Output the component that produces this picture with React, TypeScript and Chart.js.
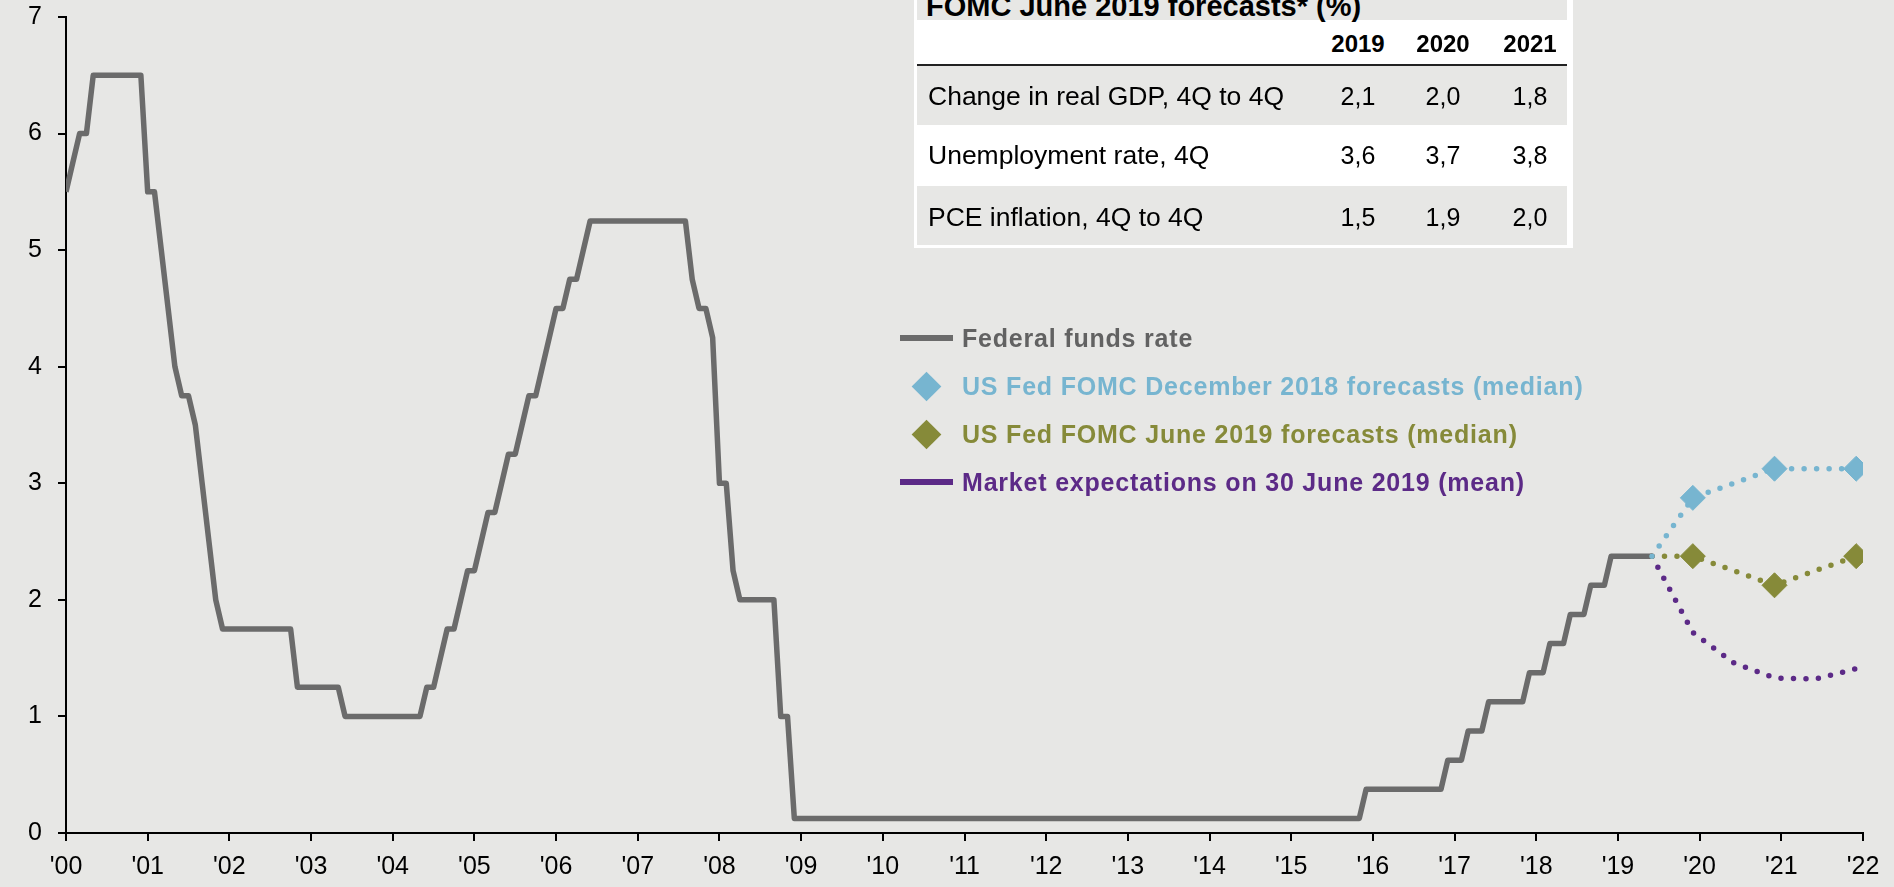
import React, { useEffect, useRef } from 'react';
import { Chart, registerables } from 'chart.js';

Chart.register(...registerables);

// ---------- data ----------
const FFR_START_YEAR = 2000;
// Federal funds rate (target / midpoint of target range), end of month, Jan 2000 .. Jun 2019
const ffrRates: number[] = [
  // 2000
  5.5, 5.75, 6.0, 6.0, 6.5, 6.5, 6.5, 6.5, 6.5, 6.5, 6.5, 6.5,
  // 2001
  5.5, 5.5, 5.0, 4.5, 4.0, 3.75, 3.75, 3.5, 3.0, 2.5, 2.0, 1.75,
  // 2002
  1.75, 1.75, 1.75, 1.75, 1.75, 1.75, 1.75, 1.75, 1.75, 1.75, 1.25, 1.25,
  // 2003
  1.25, 1.25, 1.25, 1.25, 1.25, 1.0, 1.0, 1.0, 1.0, 1.0, 1.0, 1.0,
  // 2004
  1.0, 1.0, 1.0, 1.0, 1.0, 1.25, 1.25, 1.5, 1.75, 1.75, 2.0, 2.25,
  // 2005
  2.25, 2.5, 2.75, 2.75, 3.0, 3.25, 3.25, 3.5, 3.75, 3.75, 4.0, 4.25,
  // 2006
  4.5, 4.5, 4.75, 4.75, 5.0, 5.25, 5.25, 5.25, 5.25, 5.25, 5.25, 5.25,
  // 2007
  5.25, 5.25, 5.25, 5.25, 5.25, 5.25, 5.25, 5.25, 4.75, 4.5, 4.5, 4.25,
  // 2008
  3.0, 3.0, 2.25, 2.0, 2.0, 2.0, 2.0, 2.0, 2.0, 1.0, 1.0, 0.125,
  // 2009
  0.125, 0.125, 0.125, 0.125, 0.125, 0.125, 0.125, 0.125, 0.125, 0.125, 0.125, 0.125,
  // 2010
  0.125, 0.125, 0.125, 0.125, 0.125, 0.125, 0.125, 0.125, 0.125, 0.125, 0.125, 0.125,
  // 2011
  0.125, 0.125, 0.125, 0.125, 0.125, 0.125, 0.125, 0.125, 0.125, 0.125, 0.125, 0.125,
  // 2012
  0.125, 0.125, 0.125, 0.125, 0.125, 0.125, 0.125, 0.125, 0.125, 0.125, 0.125, 0.125,
  // 2013
  0.125, 0.125, 0.125, 0.125, 0.125, 0.125, 0.125, 0.125, 0.125, 0.125, 0.125, 0.125,
  // 2014
  0.125, 0.125, 0.125, 0.125, 0.125, 0.125, 0.125, 0.125, 0.125, 0.125, 0.125, 0.125,
  // 2015
  0.125, 0.125, 0.125, 0.125, 0.125, 0.125, 0.125, 0.125, 0.125, 0.125, 0.125, 0.375,
  // 2016
  0.375, 0.375, 0.375, 0.375, 0.375, 0.375, 0.375, 0.375, 0.375, 0.375, 0.375, 0.625,
  // 2017
  0.625, 0.625, 0.875, 0.875, 0.875, 1.125, 1.125, 1.125, 1.125, 1.125, 1.125, 1.375,
  // 2018
  1.375, 1.375, 1.625, 1.625, 1.625, 1.875, 1.875, 1.875, 2.125, 2.125, 2.125, 2.375,
  // 2019
  2.375, 2.375, 2.375, 2.375, 2.375, 2.375,
];

// FOMC forecasts (median), year-end
const forecastDates = ['2019-12', '2020-12', '2021-12'];
const dec2018Forecasts = [2.875, 3.125, 3.125];
const jun2019Forecasts = [2.375, 2.125, 2.375];

// Market expectations on 30 June 2019 (mean)
const marketDates = ['2019-12', '2020-06', '2020-12', '2021-06', '2021-12'];
const marketExpectations = [1.72, 1.46, 1.33, 1.32, 1.41];

// axis
const yTicks = [0, 1, 2, 3, 4, 5, 6, 7];
const xTickYears = [2000, 2001, 2002, 2003, 2004, 2005, 2006, 2007, 2008, 2009, 2010, 2011,
  2012, 2013, 2014, 2015, 2016, 2017, 2018, 2019, 2020, 2021, 2022];

// table
const tableTitle = 'FOMC June 2019 forecasts* (%)';
const tableYears = ['2019', '2020', '2021'];
const tableRowLabels = ['Change in real GDP, 4Q to 4Q', 'Unemployment rate, 4Q', 'PCE inflation, 4Q to 4Q'];
const gdpRow = ['2,1', '2,0', '1,8'];
const unemploymentRow = ['3,6', '3,7', '3,8'];
const pceRow = ['1,5', '1,9', '2,0'];

// legend
const legendLabels = [
  'Federal funds rate',
  'US Fed FOMC December 2018 forecasts (median)',
  'US Fed FOMC June 2019 forecasts (median)',
  'Market expectations on 30 June 2019 (mean)',
];

// ---------- style ----------
const BG = '#e7e7e5';
const FONT = '"Liberation Sans", Arial, Helvetica, sans-serif';
const C_FFR = '#6b6b6b';
const C_DEC = '#77b5d0';
const C_JUN = '#868a39';
const C_MKT = '#5c2a87';
const C_FFR_TEXT = '#626262';

const toYear = (d: string) => {
  const [y, m] = d.split('-').map(Number);
  return y + (m - 1) / 12;
};

export default function App() {
  const ref = useRef<HTMLCanvasElement>(null);

  useEffect(() => {
    document.body.style.margin = '0';
    document.body.style.background = BG;
    const ffrPoints = ffrRates.map((v, i) => ({ x: FFR_START_YEAR + i / 12, y: v }));
    const last = ffrPoints[ffrPoints.length - 1];
    const decPoints = [last, ...forecastDates.map((d, i) => ({ x: toYear(d), y: dec2018Forecasts[i] }))];
    const junPoints = [last, ...forecastDates.map((d, i) => ({ x: toYear(d), y: jun2019Forecasts[i] }))];
    const mktPoints = [last, ...marketDates.map((d, i) => ({ x: toYear(d), y: marketExpectations[i] }))];

    const dotted = {
      borderWidth: 5.5,
      borderDash: [0, 12.5],
      borderCapStyle: 'round' as const,
      borderJoinStyle: 'round' as const,
      tension: 0,
      fill: false,
    };

    const chart = new Chart(ref.current!, {
      type: 'line',
      data: {
        datasets: [
          {
            label: legendLabels[1], data: decPoints, borderColor: C_DEC, backgroundColor: C_DEC,
            pointStyle: 'rectRot', pointRadius: [0, 12.5, 12.5, 12.5], pointBorderWidth: 1,
            pointBorderColor: C_DEC, order: 1, ...dotted,
          },
          {
            label: legendLabels[2], data: junPoints, borderColor: C_JUN, backgroundColor: C_JUN,
            pointStyle: 'rectRot', pointRadius: [0, 12.5, 12.5, 12.5], pointBorderWidth: 1,
            pointBorderColor: C_JUN, order: 2, ...dotted,
          },
          {
            label: legendLabels[3], data: mktPoints, borderColor: C_MKT, backgroundColor: C_MKT,
            pointRadius: 0, order: 3, ...dotted,
          },
          {
            label: legendLabels[0], data: ffrPoints, borderColor: C_FFR, backgroundColor: C_FFR,
            borderWidth: 5.5, pointRadius: 0, tension: 0, borderJoinStyle: 'round', order: 4,
          },
        ],
      },
      options: {
        responsive: false,
        animation: false,
        events: [],
        layout: { padding: { top: 17, right: 31, left: 0, bottom: 0 } },
        plugins: { legend: { display: false }, tooltip: { enabled: false } },
        scales: {
          x: {
            type: 'linear',
            min: xTickYears[0],
            max: xTickYears[xTickYears.length - 1],
            afterBuildTicks: (s: any) => { s.ticks = xTickYears.map((v) => ({ value: v })); },
            afterFit: (s: any) => { s.height = 54; s.paddingLeft = 16; s.paddingRight = 16; },
            ticks: {
              autoSkip: false, maxRotation: 0, minRotation: 0, padding: 11,
              color: '#000', font: { family: FONT, size: 25 },
              callback: (v: any) => "'" + String(Math.round(Number(v)) % 100).padStart(2, '0'),
            },
            grid: { drawOnChartArea: false, drawTicks: true, tickLength: 8, color: '#000', lineWidth: 2 },
            border: { display: true, color: '#000', width: 2 },
          },
          y: {
            type: 'linear',
            min: yTicks[0],
            max: yTicks[yTicks.length - 1],
            afterBuildTicks: (s: any) => { s.ticks = yTicks.map((v) => ({ value: v })); },
            afterFit: (s: any) => { s.width = 66; s.paddingTop = 15; s.paddingBottom = 15; },
            ticks: { padding: 16, color: '#000', font: { family: FONT, size: 25 } },
            grid: { drawOnChartArea: false, drawTicks: true, tickLength: 8, color: '#000', lineWidth: 2 },
            border: { display: true, color: '#000', width: 2 },
          },
        },
      },
    } as any);
    return () => chart.destroy();
  }, []);

  const colCenters = [1358, 1443, 1530];
  const rows = [
    { top: 66, h: 59, bg: BG, label: tableRowLabels[0], vals: gdpRow, dy: 1 },
    { top: 125, h: 61, bg: '#ffffff', label: tableRowLabels[1], vals: unemploymentRow, dy: 0 },
    { top: 186, h: 59, bg: BG, label: tableRowLabels[2], vals: pceRow, dy: 2 },
  ];
  const abs = (o: React.CSSProperties): React.CSSProperties => ({ position: 'absolute', ...o });

  const legendRows = [
    { cy: 338, color: C_FFR_TEXT, marker: 'line', mColor: C_FFR },
    { cy: 386, color: C_DEC, marker: 'diamond', mColor: C_DEC },
    { cy: 434, color: C_JUN, marker: 'diamond', mColor: C_JUN },
    { cy: 482, color: C_MKT, marker: 'line', mColor: C_MKT },
  ];

  return (
    <div style={{ position: 'relative', width: 1894, height: 887, background: BG, overflow: 'hidden', fontFamily: FONT }}>
      <canvas ref={ref} width={1894} height={887} style={abs({ left: 0, top: 0, width: 1894, height: 887 })} />

      {/* table */}
      <div style={abs({ left: 914, top: -30, width: 659, height: 278, background: '#ffffff' })} />
      <div style={abs({ left: 917, top: -30, width: 650, height: 50, background: BG })} />
      <div style={abs({ left: 926, top: -9, height: 30, lineHeight: '30px', fontSize: 29, fontWeight: 'bold', color: '#000', whiteSpace: 'nowrap' })}>{tableTitle}</div>
      {tableYears.map((y, i) => (
        <div key={y} style={abs({ left: colCenters[i] - 45, width: 90, top: 29, height: 30, lineHeight: '30px', fontSize: 24, fontWeight: 'bold', textAlign: 'center', color: '#000' })}>{y}</div>
      ))}
      <div style={abs({ left: 917, top: 64, width: 650, height: 2, background: '#222' })} />
      {rows.map((r) => (
        <div key={r.label} style={abs({ left: 917, top: r.top, width: 650, height: r.h, background: r.bg })}>
          <div style={abs({ left: 11, top: r.dy, height: r.h, lineHeight: r.h + 'px', fontSize: 26.5, color: '#000', whiteSpace: 'nowrap' })}>{r.label}</div>
          {r.vals.map((v, i) => (
            <div key={i} style={abs({ left: colCenters[i] - 917 - 45, width: 90, top: r.dy, height: r.h, lineHeight: r.h + 'px', fontSize: 25, textAlign: 'center', color: '#000' })}>{v}</div>
          ))}
        </div>
      ))}

      {/* legend */}
      {legendRows.map((l, i) => (
        <React.Fragment key={i}>
          {l.marker === 'line' ? (
            <div style={abs({ left: 900, top: l.cy - 3, width: 53, height: 6, background: l.mColor })} />
          ) : (
            <div style={abs({ left: 926.5 - 10.5, top: l.cy - 10.5, width: 21, height: 21, background: l.mColor, transform: 'rotate(45deg)' })} />
          )}
          <div style={abs({ left: 962, top: l.cy - 16, height: 32, lineHeight: '32px', fontSize: 25, letterSpacing: 0.8, fontWeight: 'bold', color: l.color, whiteSpace: 'nowrap' })}>{legendLabels[i]}</div>
        </React.Fragment>
      ))}
    </div>
  );
}
